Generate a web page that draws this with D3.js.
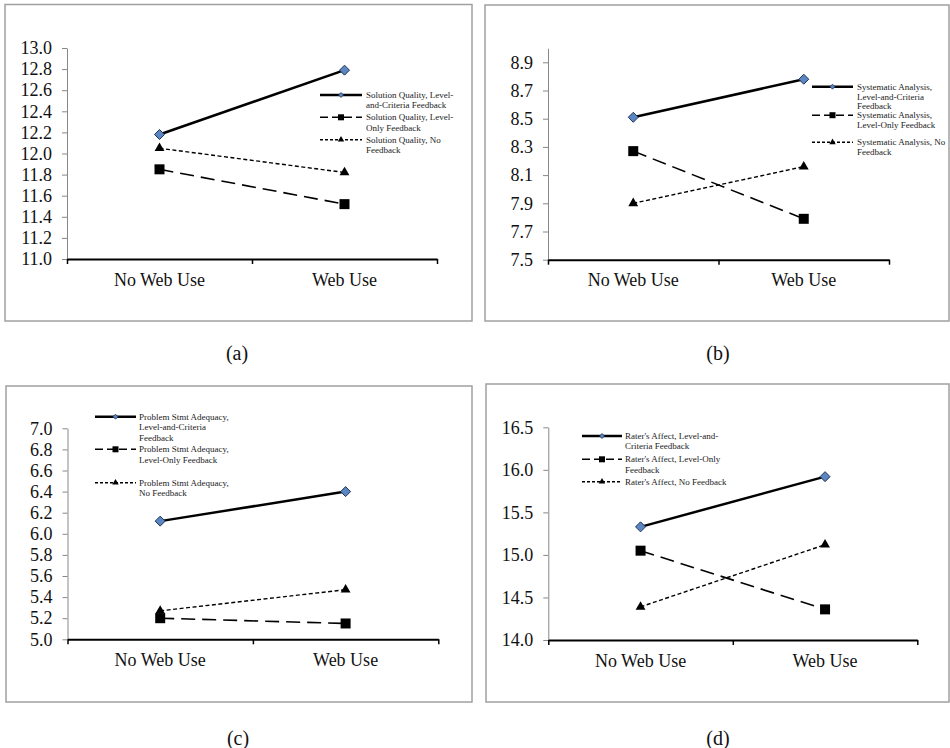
<!DOCTYPE html>
<html>
<head>
<meta charset="utf-8">
<script src="https://cdn.jsdelivr.net/npm/d3@7"></script>
<style>
  body { margin: 0; background: #fff; }
  svg text { font-family: 'Liberation Serif', 'Times New Roman', serif !important; }
</style>
</head>
<body>
<svg id="chart" width="950" height="748"></svg>
<script>
// categories on the x axis
const categories = ["No Web Use", "Web Use"];

// (a) solution quality
const solutionLC = [12.18, 12.79];
const solutionLO = [11.85, 11.52];
const solutionNF = [12.05, 11.82];
const ticksA = [11.0, 11.2, 11.4, 11.6, 11.8, 12.0, 12.2, 12.4, 12.6, 12.8, 13.0];
const legendA = [["Solution Quality, Level-", "and-Criteria Feedback"],
                 ["Solution Quality, Level-", "Only Feedback"],
                 ["Solution Quality, No", "Feedback"]];

// (b) systematic analysis
const analysisLC = [8.51, 8.78];
const analysisLO = [8.27, 7.79];
const analysisNF = [7.90, 8.16];
const ticksB = [7.5, 7.7, 7.9, 8.1, 8.3, 8.5, 8.7, 8.9];
const legendB = [["Systematic Analysis,", "Level-and-Criteria", "Feedback"],
                 ["Systematic Analysis,", "Level-Only Feedback"],
                 ["Systematic Analysis, No", "Feedback"]];

// (c) problem statement adequacy
const stmtLC = [6.12, 6.40];
const stmtLO = [5.20, 5.15];
const stmtNF = [5.27, 5.47];
const ticksC = [5.0, 5.2, 5.4, 5.6, 5.8, 6.0, 6.2, 6.4, 6.6, 6.8, 7.0];
const legendC = [["Problem Stmt Adequacy,", "Level-and-Criteria", "Feedback"],
                 ["Problem Stmt Adequacy,", "Level-Only Feedback"],
                 ["Problem Stmt Adequacy,", "No Feedback"]];

// (d) rater's affect
const affectLC = [15.33, 15.92];
const affectLO = [15.05, 14.36];
const affectNF = [14.39, 15.12];
const ticksD = [14.0, 14.5, 15.0, 15.5, 16.0, 16.5];
const legendD = [["Rater's Affect, Level-and-", "Criteria Feedback"],
                 ["Rater's Affect, Level-Only", "Feedback"],
                 ["Rater's Affect, No Feedback"]];

const captions = ["(a)", "(b)", "(c)", "(d)"];

// layout of each panel (pixels)
const panels = [
  { frame: [5, 4.5, 472, 321], x: [67, 437], y: [259, 48], dom: [11, 13], ticks: ticksA,
    series: [solutionLC, solutionLO, solutionNF], legend: legendA,
    leg: { x1: 320, x2: 362, tx: 366, ys: [95, 117.3, 139.7], lh: 10.4 }, cap: [237, 360] },
  { frame: [485, 5, 949, 321], x: [548, 889], y: [259.7, 48.2], dom: [7.5, 9.0], ticks: ticksB,
    series: [analysisLC, analysisLO, analysisNF], legend: legendB,
    leg: { x1: 812, x2: 853, tx: 857, ys: [86.7, 115.2, 142.3], lh: 9.8 }, cap: [718, 360] },
  { frame: [6, 386, 472, 702], x: [67.5, 438.3], y: [639.3, 428.3], dom: [5, 7], ticks: ticksC,
    series: [stmtLC, stmtLO, stmtNF], legend: legendC,
    leg: { x1: 95, x2: 136, tx: 139, ys: [416.7, 449.3, 482.7], lh: 10.4 }, cap: [238, 745] },
  { frame: [486, 384, 949, 702], x: [548.3, 917.3], y: [640, 427.3], dom: [14, 16.5], ticks: ticksD,
    series: [affectLC, affectLO, affectNF], legend: legendD,
    leg: { x1: 582, x2: 622, tx: 625, ys: [436, 459.3, 481.7], lh: 10.4 }, cap: [718, 745] }
];

const styles = [
  { width: 2.5, dash: null, legDash: null },
  { width: 1.6, dash: "14,7", legDash: "8,4" },
  { width: 1.4, dash: "4,2.5", legDash: "3,2" }
];

const diamond = r => `M0,${-r}L${r},0L0,${r}L${-r},0Z`;

function marker(g, kind, x, y, big) {
  if (kind === 0) {
    g.append('path').attr('d', diamond(big ? 5 : 2.5))
      .attr('transform', `translate(${x},${y})`)
      .attr('fill', '#5b86c1').attr('stroke', '#1f3556').attr('stroke-width', big ? 1 : 0.8);
  } else if (kind === 1) {
    g.append('path').attr('d', d3.symbol(d3.symbolSquare, big ? 100 : 36)())
      .attr('transform', `translate(${x},${y})`).attr('fill', '#000');
  } else {
    g.append('path').attr('d', d3.symbol(d3.symbolTriangle, big ? 42 : 18)())
      .attr('transform', `translate(${x},${y})`).attr('fill', '#000');
  }
}

const svg = d3.select('#chart');

panels.forEach((p, i) => {
  let g = svg.append('g');

  g.append('rect')
    .attr('x', p.frame[0]).attr('y', p.frame[1])
    .attr('width', p.frame[2] - p.frame[0]).attr('height', p.frame[3] - p.frame[1])
    .attr('fill', 'none').attr('stroke', '#a0a0a0').attr('stroke-width', 1.5);

  let xScale = d3.scaleBand().domain(categories).range(p.x);
  let yScale = d3.scaleLinear().domain(p.dom).range(p.y);
  let cx = c => xScale(c) + xScale.bandwidth() / 2;

  // y axis
  let yAxis = g.append('g')
    .attr('transform', `translate(${p.x[0]},0)`)
    .call(d3.axisLeft(yScale).tickValues(p.ticks).tickFormat(d3.format('.1f'))
      .tickSize(5).tickSizeOuter(0).tickPadding(10));
  yAxis.select('.domain').attr('stroke', '#888');
  yAxis.selectAll('.tick line').attr('stroke', '#888');
  yAxis.selectAll('text').attr('font-size', 18).attr('fill', '#111');

  // x axis: edge ticks between categories
  let edge = d3.scaleLinear().domain([0, categories.length]).range(p.x);
  let xEdge = g.append('g')
    .attr('transform', `translate(0,${p.y[0]})`)
    .call(d3.axisBottom(edge).tickValues(d3.range(categories.length + 1))
      .tickFormat('').tickSize(5).tickSizeOuter(0));
  xEdge.select('.domain').attr('stroke', '#000').attr('stroke-width', 2);
  xEdge.selectAll('.tick line').attr('stroke', '#000').attr('stroke-width', 1.5);

  let xLab = g.append('g')
    .attr('transform', `translate(0,${p.y[0]})`)
    .call(d3.axisBottom(xScale).tickSize(0).tickPadding(14));
  xLab.select('.domain').remove();
  xLab.selectAll('text').attr('font-size', 18).attr('fill', '#111');

  // lines and markers
  let line = d3.line().x((d, j) => cx(categories[j])).y(d => yScale(d));
  p.series.forEach((vals, k) => {
    g.append('path').datum(vals)
      .attr('d', line)
      .attr('fill', 'none').attr('stroke', '#000')
      .attr('stroke-width', styles[k].width)
      .attr('stroke-dasharray', styles[k].dash);
    vals.forEach((v, j) => marker(g, k, cx(categories[j]), yScale(v), true));
  });

  // legend
  p.legend.forEach((lines, k) => {
    let y = p.leg.ys[k];
    g.append('line')
      .attr('x1', p.leg.x1).attr('x2', p.leg.x2).attr('y1', y).attr('y2', y)
      .attr('stroke', '#000').attr('stroke-width', styles[k].width)
      .attr('stroke-dasharray', styles[k].legDash);
    marker(g, k, (p.leg.x1 + p.leg.x2) / 2, y, false);
    let t = g.append('text')
      .attr('x', p.leg.tx).attr('y', y + 3)
      .attr('font-size', 9).attr('fill', '#222');
    lines.forEach((s, m) => {
      t.append('tspan').attr('x', p.leg.tx).attr('dy', m === 0 ? 0 : p.leg.lh).text(s);
    });
  });

  svg.append('text')
    .attr('x', p.cap[0]).attr('y', p.cap[1])
    .attr('text-anchor', 'middle').attr('font-size', 20).attr('fill', '#111')
    .text(captions[i]);
});
</script>
</body>
</html>
